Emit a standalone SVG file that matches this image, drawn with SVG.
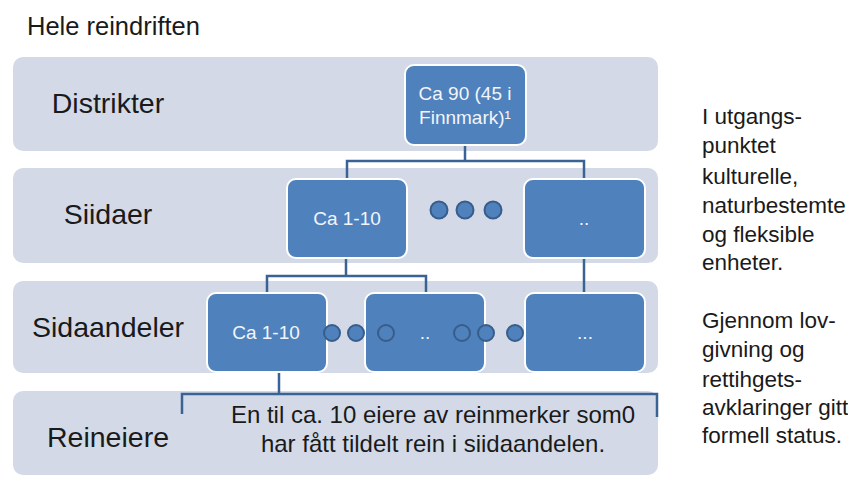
<svg xmlns="http://www.w3.org/2000/svg" width="848" height="477" viewBox="0 0 848 477">
  <style>
    .band { fill: #D3D9E7; }
    .node rect { fill: #4F81BD; stroke: #FFFFFF; stroke-width: 2; }
    .ntext { font-family: "Liberation Sans", Arial, sans-serif; font-size: 19px; fill: #F2F5FA; text-anchor: middle; }
    .label { font-family: "Liberation Sans", Arial, sans-serif; font-size: 28.5px; fill: #1A1A1A; text-anchor: middle; }
    .side { font-family: "Liberation Sans", Arial, sans-serif; font-size: 22.5px; fill: #1A1A1A; }
    .body { font-family: "Liberation Sans", Arial, sans-serif; font-size: 24px; fill: #1A1A1A; text-anchor: middle; }
    .conn { fill: none; stroke: #3A6395; stroke-width: 2.5; }
    .dot { fill: #4F81BD; stroke: #385D8A; stroke-width: 2; }
  </style>
  <rect width="848" height="477" fill="#FFFFFF"/>

  <text x="27" y="35" font-family="'Liberation Sans', Arial, sans-serif" font-size="25.5" fill="#1A1A1A">Hele reindriften</text>

  <g id="bands">
    <rect class="band" x="13" y="57" width="645" height="94" rx="10"/>
    <rect class="band" x="13" y="168" width="645" height="95" rx="10"/>
    <rect class="band" x="13" y="281" width="645" height="92" rx="10"/>
    <rect class="band" x="13" y="391" width="645" height="84" rx="10"/>
  </g>

  <g id="row-labels">
    <text class="label" x="108" y="113">Distrikter</text>
    <text class="label" x="108" y="224">Siidaer</text>
    <text class="label" x="108" y="337">Sidaandeler</text>
    <text class="label" x="108" y="447">Reineiere</text>
  </g>

  <g id="connectors">
    <path class="conn" d="M465 145 V161 M347 179 V161 H584 V179"/>
    <path class="conn" d="M346 258 V276 M267 293 V276 H426 V293"/>
    <path class="conn" d="M584 258 V293"/>
    <path class="conn" d="M279 372 V394 M182 414 V394 H657 V417"/>
  </g>

  <g id="node-distrikter" class="node">
    <rect x="405" y="65" width="121" height="80" rx="9"/>
    <text class="ntext" x="465" y="100">Ca 90 (45 i</text>
    <text class="ntext" x="465" y="124">Finnmark)¹</text>
  </g>

  <g id="node-siida-1" class="node">
    <rect x="287" y="179" width="120" height="79" rx="9"/>
    <text class="ntext" x="347" y="225">Ca 1-10</text>
  </g>
  <g id="node-siida-2" class="node">
    <rect x="524" y="179" width="121" height="79" rx="9"/>
    <text class="ntext" x="584" y="225">..</text>
  </g>

  <g id="node-andel-1" class="node">
    <rect x="207" y="293" width="120" height="79" rx="9"/>
    <text class="ntext" x="266" y="339">Ca 1-10</text>
  </g>
  <g id="node-andel-2" class="node">
    <rect x="365" y="293" width="120" height="79" rx="9"/>
    <text class="ntext" x="425" y="339">..</text>
  </g>
  <g id="node-andel-3" class="node">
    <rect x="525" y="293" width="120" height="79" rx="9"/>
    <text class="ntext" x="585" y="339">...</text>
  </g>

  <g id="dots">
    <circle class="dot" cx="439" cy="210" r="8.5"/>
    <circle class="dot" cx="465" cy="210" r="8.5"/>
    <circle class="dot" cx="493" cy="210" r="8.5"/>
    <circle class="dot" cx="332" cy="333" r="8"/>
    <circle class="dot" cx="356" cy="333" r="8"/>
    <circle class="dot" cx="386" cy="333" r="8"/>
    <circle class="dot" cx="462" cy="333" r="8"/>
    <circle class="dot" cx="486" cy="333" r="8"/>
    <circle class="dot" cx="515" cy="333" r="8"/>
  </g>

  <g id="node-reineiere">
    <text class="body" x="433" y="423">En til ca. 10 eiere av reinmerker som0</text>
    <text class="body" x="433" y="452">har fått tildelt rein i siidaandelen.</text>
  </g>

  <g id="side-text">
    <text class="side" x="702" y="124">I utgangs-</text>
    <text class="side" x="702" y="153">punktet</text>
    <text class="side" x="702" y="184">kulturelle,</text>
    <text class="side" x="702" y="213">naturbestemte</text>
    <text class="side" x="702" y="242">og fleksible</text>
    <text class="side" x="702" y="270">enheter.</text>
    <text class="side" x="702" y="328">Gjennom lov-</text>
    <text class="side" x="702" y="357">givning og</text>
    <text class="side" x="702" y="387">rettihgets-</text>
    <text class="side" x="702" y="415">avklaringer gitt</text>
    <text class="side" x="702" y="443">formell status.</text>
  </g>
</svg>
